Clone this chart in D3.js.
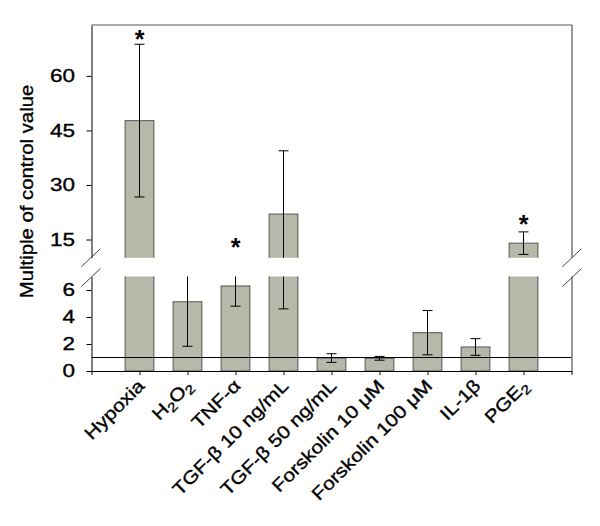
<!DOCTYPE html>
<html><head><meta charset="utf-8">
<script src="https://cdn.jsdelivr.net/npm/d3@7"></script>
<style>
body{margin:0;background:#fff;}
svg{display:block;font-family:"Liberation Sans",Arial,Helvetica,sans-serif;}
</style>
</head><body>
<svg id="chart" width="600" height="526"></svg>
<script>
// ---- data ----
const categories = ["Hypoxia","H_2O_2","TNF-α","TGF-β 10 ng/mL","TGF-β 50 ng/mL","Forskolin 10 μM","Forskolin 100 μM","IL-1β","PGE_2"];
const means = [47.7, 5.13, 6.3, 22.0, 0.96, 0.94, 2.84, 1.78, 14.0];
const errors = [21.0, 3.3, 1.5, 17.4, 0.32, 0.14, 1.64, 0.62, 3.1];
const starLevels = [70.8, null, 13.5, null, null, null, null, null, 19.9];
const lowerDomain = [0, 7];
const upperDomain = [10, 74];
const lowerTicks = [0, 2, 4, 6];
const upperTicks = [15, 30, 45, 60];
const controlLevel = 1;
const yTitle = "Multiple of control value";

// ---- layout ----
const L = 91.5, R = 572, TOP = 25, UB = 257.7, LT = 276.5, BOT = 371;
const SX = 1.17;      // horizontal glyph stretch of the original typeface
const SX_TICK = 1.25;
const TXT_STROKE = 0.35;
const svg = d3.select("#chart");

const x = d3.scaleLinear().domain([0, categories.length + 1]).range([L, 571.5]);
const yLow = d3.scaleLinear().domain(lowerDomain).range([BOT, LT]);
const yHigh = d3.scaleLinear().domain(upperDomain).range([UB, TOP]);
const segments = [
  {y: yLow, id: "clipLow", top: LT, bottom: BOT + 1, base: 0},
  {y: yHigh, id: "clipHigh", top: TOP, bottom: UB, base: upperDomain[0] - 3}
];
const defs = svg.append("defs");
segments.forEach(s => {
  defs.append("clipPath").attr("id", s.id).append("rect")
    .attr("x", 0).attr("width", 600).attr("y", s.top).attr("height", s.bottom - s.top);
});

const data = categories.map((c, i) => ({c, i, v: means[i], e: errors[i], star: starLevels[i]}));
const bw = (x(1) - x(0)) * 0.6;
const capW = 10;

// bars
segments.forEach(s => {
  const g = svg.append("g").attr("clip-path", `url(#${s.id})`);
  g.selectAll("rect").data(data.filter(d => d.v > s.y.domain()[0])).join("rect")
    .attr("x", d => x(d.i + 1) - bw / 2)
    .attr("width", bw)
    .attr("y", d => s.y(d.v))
    .attr("height", d => s.y(s.base) - s.y(d.v))
    .attr("fill", "#b7b7aa")
    .attr("stroke", "#555")
    .attr("stroke-width", 1);
});

// control line
svg.append("line")
  .attr("x1", x(0)).attr("x2", x(categories.length + 1))
  .attr("y1", yLow(controlLevel)).attr("y2", yLow(controlLevel))
  .attr("stroke", "#000").attr("stroke-width", 1);

// error bars
segments.forEach(s => {
  const g = svg.append("g").attr("clip-path", `url(#${s.id})`)
    .attr("stroke", "#000").attr("stroke-width", 1);
  data.forEach(d => {
    const cx = x(d.i + 1), lo = d.v - d.e, hi = d.v + d.e;
    g.append("line").attr("x1", cx).attr("x2", cx).attr("y1", s.y(lo)).attr("y2", s.y(hi));
    [lo, hi].forEach(val => {
      g.append("line").attr("x1", cx - capW / 2).attr("x2", cx + capW / 2)
        .attr("y1", s.y(val)).attr("y2", s.y(val));
    });
  });
});

// significance stars
svg.append("g").selectAll("text").data(data.filter(d => d.star != null)).join("text")
  .attr("x", d => x(d.i + 1))
  .attr("y", d => yHigh(d.star) + 11)
  .attr("text-anchor", "middle")
  .attr("font-size", 25)
  .attr("font-weight", "bold")
  .text("*");

// left axes (two segments)
function styleLeft(g) {
  g.select(".domain").attr("stroke", "#000");
  g.selectAll(".tick line").attr("stroke", "#000");
  g.selectAll(".tick text")
    .attr("x", 0)
    .attr("transform", `translate(-16.5,0) scale(${SX_TICK},1)`)
    .attr("font-size", 18)
    .attr("font-family", "'Liberation Sans', Arial, sans-serif")
    .attr("fill", "#000")
    .attr("stroke", "#000").attr("stroke-width", TXT_STROKE);
}
svg.append("g").attr("transform", `translate(${L},0)`)
  .call(d3.axisLeft(yHigh).tickValues(upperTicks).tickSize(5).tickSizeOuter(0).tickFormat(d3.format("d")))
  .call(styleLeft);
svg.append("g").attr("transform", `translate(${L},0)`)
  .call(d3.axisLeft(yLow).tickValues(lowerTicks).tickSize(5).tickSizeOuter(0).tickFormat(d3.format("d")))
  .call(styleLeft);

// bottom axis
const xa = svg.append("g").attr("transform", `translate(0,${BOT})`)
  .call(d3.axisBottom(x).tickValues(d3.range(0, categories.length + 2)).tickSize(4).tickSizeOuter(0).tickFormat(""));
xa.select(".domain").attr("stroke", "#000");
xa.selectAll(".tick line").attr("stroke", "#000");

// frame (top and right)
const frame = svg.append("g").attr("stroke", "#555").attr("stroke-width", 1.2).attr("fill", "none");
frame.append("line").attr("x1", L).attr("x2", R).attr("y1", TOP).attr("y2", TOP);
frame.append("line").attr("x1", R).attr("x2", R).attr("y1", TOP).attr("y2", UB);
frame.append("line").attr("x1", R).attr("x2", R).attr("y1", LT).attr("y2", BOT);

// break marks
const brk = svg.append("g").attr("stroke", "#444").attr("stroke-width", 1);
[L - 0.6, R].forEach(ax => {
  [UB, LT + 1].forEach(yy => {
    brk.append("line").attr("x1", ax - 9.5).attr("y1", yy + 9).attr("x2", ax + 9.5).attr("y2", yy - 9);
  });
});

// category labels
const lab = svg.append("g").selectAll("text").data(data).join("text")
  .attr("transform", d => `translate(${x(d.i + 1) + 6},387) rotate(-45) scale(${SX},1)`)
  .attr("text-anchor", "end")
  .attr("font-size", 18)
  .attr("fill", "#000")
  .attr("stroke", "#000").attr("stroke-width", TXT_STROKE);
lab.each(function(d) {
  const t = d3.select(this);
  const parts = d.c.split(/_(\d)/);
  let shift = 0;
  parts.forEach((p, k) => {
    if (p === "") return;
    if (k % 2 === 1) {
      t.append("tspan").attr("dy", 4).attr("font-size", 13).text(p);
      shift = -4;
    } else {
      const ts = t.append("tspan").text(p);
      if (shift) { ts.attr("dy", shift); shift = 0; }
    }
  });
});

// y title
svg.append("text")
  .attr("transform", `translate(33.3,191.5) rotate(-90) scale(1.13,1)`)
  .attr("text-anchor", "middle")
  .attr("font-size", 18)
  .attr("fill", "#000")
  .attr("stroke", "#000").attr("stroke-width", TXT_STROKE)
  .text(yTitle);
</script>
</body></html>
